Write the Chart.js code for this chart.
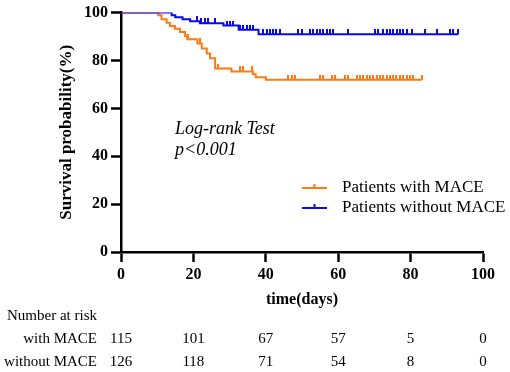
<!DOCTYPE html>
<html lang="en">
<head>
    <meta charset="UTF-8">
    <title>Survival curve</title>
    <script src="https://cdn.jsdelivr.net/npm/chart.js"></script>
    <style>
        body { margin: 0; background: #fff; }
        #wrap { width: 510px; height: 372px; }
    </style>
</head>
<body>
    <div id="wrap"><canvas id="km" width="510" height="372"></canvas></div>

    <script>
        // Kaplan-Meier steps (days, survival %)
        const withTimes = [0, 10.3, 11.2, 12.6, 13.5, 14.9, 16.3, 17.7, 18.3, 21.1, 22.3, 23.7, 24.6, 26.0, 30.5, 36.4, 37.2, 40.0, 83.1];
        const withSurv  = [100, 98.9, 97.2, 95.8, 94.4, 93.3, 91.9, 90.2, 88.9, 87.1, 85.0, 82.9, 80.9, 76.6, 75.4, 74.2, 73.0, 71.9, 71.9];
        const withoutTimes = [0, 14.0, 15.0, 17.0, 19.1, 21.8, 28.3, 32.5, 38.0, 93.2];
        const withoutSurv  = [100, 98.9, 98.1, 97.2, 96.4, 95.6, 94.6, 92.8, 91.0, 91.0];

        // censored observations (days)
        const withCensor = [18.6, 21.8, 26.9, 32.9, 33.8, 36.2, 46.2, 47.1, 48.1, 55.0, 55.9, 58.2, 59.1, 61.9, 62.8,
            65.1, 66.0, 66.9, 67.9, 68.8, 69.7, 70.6, 71.5, 72.4, 73.4, 74.3, 75.2, 76.1, 77.0, 78.0, 78.9, 79.8, 80.7, 83.1];
        const withoutCensor = [13.1, 20.9, 22.1, 23.2, 24.1, 26.0, 29.2, 30.1, 31.0, 32.9, 33.8, 34.7, 35.6, 36.5,
            39.3, 40.2, 41.1, 42.0, 42.9, 43.8, 49.0, 49.9, 52.2, 53.1, 54.1, 55.0, 55.9, 56.8, 57.7, 58.6, 62.8,
            70.2, 71.1, 72.5, 73.4, 74.3, 75.2, 76.2, 77.1, 78.0, 78.9, 80.3, 84.0, 87.2, 90.9, 91.8, 93.2];

        // number at risk table
        const riskTimes = [0, 20, 40, 60, 80, 100];
        const riskWith = [115, 101, 67, 57, 5, 0];
        const riskWithout = [126, 118, 71, 54, 8, 0];

        const xTicks = [0, 20, 40, 60, 80, 100];
        const yTicks = [0, 20, 40, 60, 80, 100];

        const ORANGE = '#FF7A10';
        const BLUE = '#0A0AF0';
        const SERIF = '"Liberation Serif", "Times New Roman", serif';

        function toPoints(times, surv) {
            return times.map((t, i) => ({ x: t, y: surv[i] }));
        }

        // survival level at time t (step function)
        function levelAt(times, surv, t) {
            let v = surv[0];
            for (let i = 0; i < times.length; i++) {
                if (times[i] <= t) v = surv[i];
            }
            return v;
        }

        function censorPoints(cens, times, surv) {
            return cens.map(t => ({ x: t, y: levelAt(times, surv, t) }));
        }

        // little upward tick used as a censor mark
        function tickMark(color) {
            const c = document.createElement('canvas');
            c.width = 2;
            c.height = 10;
            const g = c.getContext('2d');
            g.fillStyle = color;
            g.fillRect(0, 0, 2, 5);
            return c;
        }

        const extras = {
            id: 'extras',
            afterDraw(chart) {
                const ctx = chart.ctx;
                const xs = chart.scales.x;
                ctx.save();

                // log-rank note
                ctx.fillStyle = '#000';
                ctx.textBaseline = 'middle';
                ctx.textAlign = 'left';
                ctx.font = 'italic 18px ' + SERIF;
                ctx.fillText('Log-rank Test', 175, 129);
                ctx.fillText('p<0.001', 175, 150);

                // legend
                const legend = [['Patients with MACE', ORANGE, 188], ['Patients without MACE', BLUE, 208]];
                legend.forEach(([label, color, y]) => {
                    ctx.strokeStyle = color;
                    ctx.lineWidth = 2;
                    ctx.beginPath();
                    ctx.moveTo(302, y);
                    ctx.lineTo(327, y);
                    ctx.moveTo(314.5, y);
                    ctx.lineTo(314.5, y - 4);
                    ctx.stroke();
                    ctx.fillStyle = '#000';
                    ctx.font = '17px ' + SERIF;
                    ctx.fillText(label, 342, y);
                });

                // number at risk
                ctx.font = '15px ' + SERIF;
                ctx.textAlign = 'left';
                ctx.fillText('Number at risk', 7, 316);
                ctx.textAlign = 'right';
                ctx.fillText('with MACE', 97, 339);
                ctx.fillText('without MACE', 97, 362);
                ctx.textAlign = 'center';
                riskTimes.forEach((t, i) => {
                    const px = xs.getPixelForValue(t);
                    ctx.fillText(String(riskWith[i]), px, 339);
                    ctx.fillText(String(riskWithout[i]), px, 362);
                });
                ctx.restore();
            }
        };

        new Chart(document.getElementById('km'), {
            type: 'line',
            data: {
                datasets: [
                    {
                        label: 'Patients without MACE',
                        data: toPoints(withoutTimes, withoutSurv),
                        borderColor: BLUE,
                        borderWidth: 2,
                        stepped: true,
                        pointRadius: 0,
                        order: 1
                    },
                    {
                        label: 'Patients with MACE',
                        data: toPoints(withTimes, withSurv),
                        borderColor: ORANGE,
                        borderWidth: 2,
                        stepped: true,
                        pointRadius: 0,
                        order: 2
                    },
                    {
                        label: 'censor without',
                        data: censorPoints(withoutCensor, withoutTimes, withoutSurv),
                        showLine: false,
                        pointStyle: tickMark(BLUE),
                        pointRadius: 3,
                        order: 0
                    },
                    {
                        label: 'censor with',
                        data: censorPoints(withCensor, withTimes, withSurv),
                        showLine: false,
                        pointStyle: tickMark(ORANGE),
                        pointRadius: 3,
                        order: 1
                    }
                ]
            },
            options: {
                responsive: false,
                animation: false,
                layout: { padding: { left: 0, right: 27, top: 10, bottom: 62 } },
                plugins: {
                    legend: { display: false },
                    tooltip: { enabled: false }
                },
                scales: {
                    x: {
                        type: 'linear',
                        min: 0,
                        max: 100,
                        afterFit: s => { s.height = 58; },
                        afterBuildTicks: s => { s.ticks = xTicks.map(v => ({ value: v })); },
                        border: { display: true, color: '#000', width: 2.5 },
                        grid: { drawOnChartArea: false, drawTicks: true, tickLength: 10, tickWidth: 2.5, tickColor: '#000' },
                        ticks: { color: '#000', padding: 3, maxRotation: 0, font: { family: SERIF, size: 16, weight: 'bold' } },
                        title: { display: true, text: 'time(days)', color: '#000', padding: { top: 0, bottom: 1 }, font: { family: SERIF, size: 16, weight: 'bold' } }
                    },
                    y: {
                        min: 0,
                        max: 100,
                        afterFit: s => { s.width = 121; },
                        afterBuildTicks: s => { s.ticks = yTicks.map(v => ({ value: v })); },
                        border: { display: true, color: '#000', width: 2.5 },
                        grid: { drawOnChartArea: false, drawTicks: true, tickLength: 10, tickWidth: 2.5, tickColor: '#000' },
                        ticks: { color: '#000', padding: 3, font: { family: SERIF, size: 16, weight: 'bold' } },
                        title: { display: true, text: 'Survival probability(%)', color: '#000', padding: { top: 56, bottom: 0 }, font: { family: SERIF, size: 17, weight: 'bold' } }
                    }
                }
            },
            plugins: [extras]
        });
    </script>
</body>
</html>
